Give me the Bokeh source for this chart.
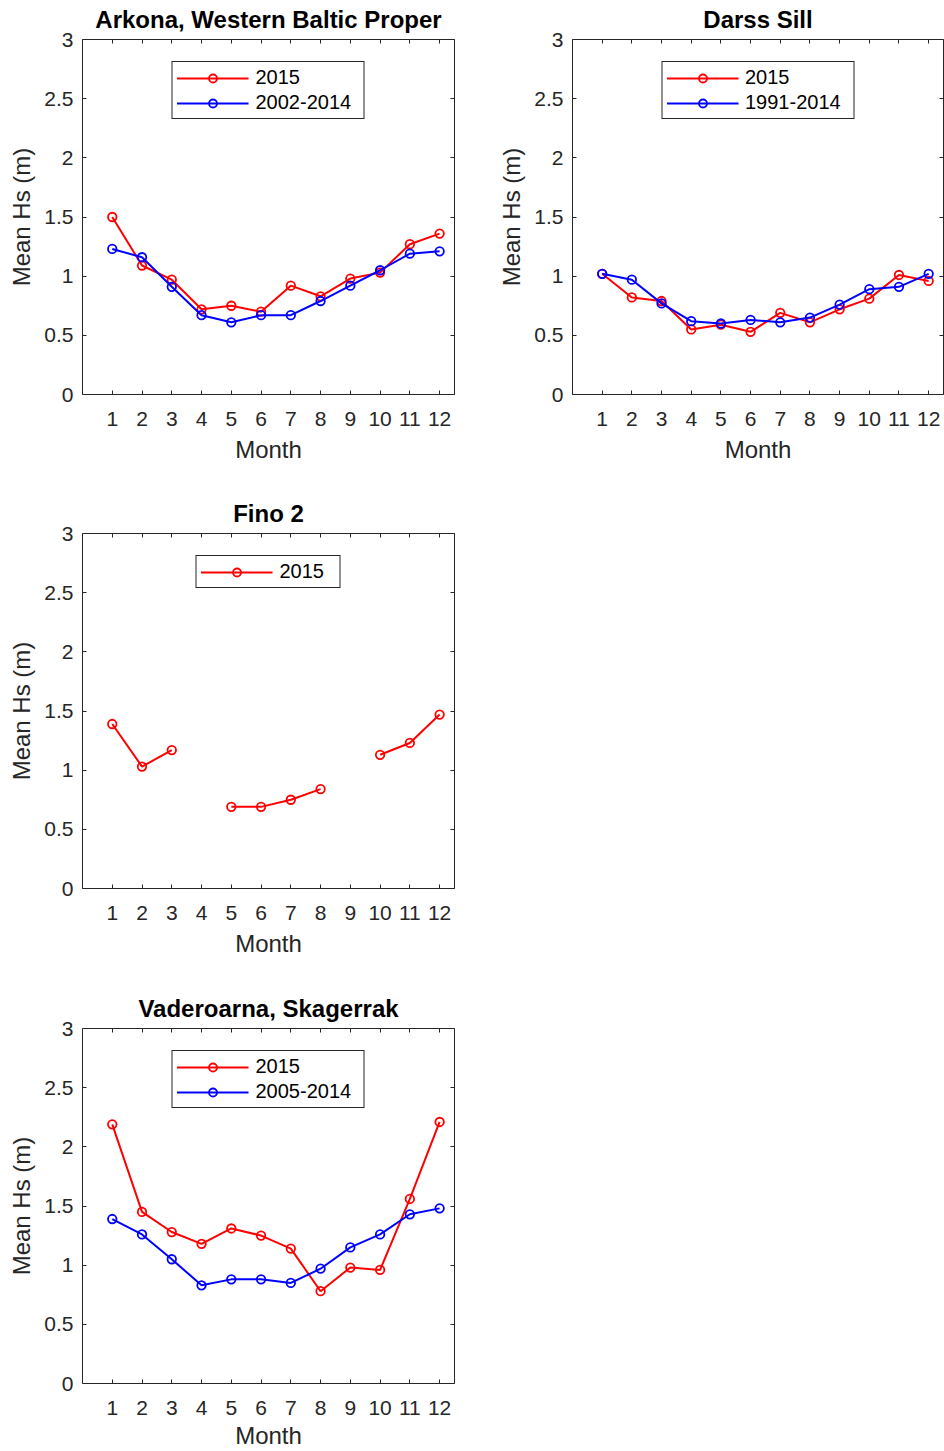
import numpy as np
from bokeh.plotting import figure
from bokeh.models import (Range1d, LinearAxis, FixedTicker, Legend, LegendItem,
                          NumeralTickFormatter, CustomJSTickFormatter, ColumnDataSource)
from bokeh.layouts import column, row
from bokeh.embed import file_html
from bokeh.resources import INLINE

nan = float("nan")
months = list(range(1, 13))
month_ticks = list(range(1, 13))
hs_ticks = [0, 0.5, 1, 1.5, 2, 2.5, 3]

arkona_2015 = [1.50, 1.09, 0.97, 0.72, 0.75, 0.70, 0.92, 0.83, 0.98, 1.03, 1.27, 1.36]
arkona_clim = [1.23, 1.16, 0.91, 0.67, 0.61, 0.67, 0.67, 0.79, 0.92, 1.05, 1.19, 1.21]
darss_2015 = [1.02, 0.82, 0.79, 0.55, 0.59, 0.53, 0.69, 0.61, 0.72, 0.81, 1.01, 0.96]
darss_clim = [1.02, 0.97, 0.77, 0.62, 0.60, 0.63, 0.61, 0.65, 0.76, 0.89, 0.91, 1.02]
fino_2015 = [1.39, 1.03, 1.17, nan, 0.69, 0.69, 0.75, 0.84, nan, 1.13, 1.23, 1.47]
vader_2015 = [2.19, 1.45, 1.28, 1.18, 1.31, 1.25, 1.14, 0.78, 0.98, 0.96, 1.56, 2.21]
vader_clim = [1.39, 1.26, 1.05, 0.83, 0.88, 0.88, 0.85, 0.97, 1.15, 1.26, 1.43, 1.48]

FONT = "Liberation Sans"
AX = "#262626"


def style_axis(ax, show_labels, is_x, label_standoff=7):
    ax.axis_line_color = AX
    ax.axis_line_width = 1
    ax.major_tick_line_color = AX
    ax.major_tick_in = 4
    ax.major_tick_out = 0
    ax.minor_tick_line_color = None
    ax.ticker = FixedTicker(ticks=month_ticks if is_x else hs_ticks)
    if show_labels:
        ax.major_label_text_font = FONT
        ax.major_label_text_font_size = "21px"
        ax.major_label_text_color = AX
        ax.axis_label_text_font = FONT
        ax.axis_label_text_font_size = "24px"
        ax.axis_label_text_font_style = "normal"
        ax.axis_label_text_color = AX
        if is_x:
            ax.major_label_standoff = 17
            ax.axis_label_standoff = label_standoff
        else:
            ax.formatter = NumeralTickFormatter(format="0.[0]")
            ax.major_label_standoff = 9
            ax.axis_label_standoff = 6
    else:
        ax.formatter = CustomJSTickFormatter(code="return ''")
        ax.major_label_text_font_size = "0px"
        ax.major_label_standoff = 0


def panel(title, series, frame_w=372, right=36, bottom=100, label_w=104, month_standoff=7):
    p = figure(frame_width=frame_w, frame_height=355,
               x_range=Range1d(0, 12.5), y_range=Range1d(0, 3),
               toolbar_location=None, output_backend="svg",
               min_border_left=82, min_border_right=right,
               min_border_top=39, min_border_bottom=bottom,
               background_fill_color="white", border_fill_color="white")
    p.outline_line_color = None
    p.grid.visible = False
    p.title.text = title
    p.title.text_font = FONT
    p.title.text_font_size = "24px"
    p.title.text_font_style = "bold"
    p.title.text_color = "black"
    p.title.align = "center"
    p.title.vertical_align = "top"
    p.title.standoff = 9

    p.xaxis.axis_label = "Month"
    p.yaxis.axis_label = "Mean Hs (m)"
    style_axis(p.xaxis[0], True, True, month_standoff)
    style_axis(p.yaxis[0], True, False)
    ta = LinearAxis()
    ra = LinearAxis()
    style_axis(ta, False, True)
    style_axis(ra, False, False)
    p.add_layout(ta, "above")
    p.add_layout(ra, "right")

    items = []
    for label, vals, color in series:
        src = ColumnDataSource(dict(x=np.array(months, dtype=float), y=np.array(vals, dtype=float)))
        l = p.line("x", "y", source=src, line_color=color, line_width=2)
        s = p.scatter("x", "y", source=src, marker="circle", size=8.5, fill_color=None,
                      line_color=color, line_width=1.8)
        items.append(LegendItem(label=label, renderers=[l, s]))
    leg = Legend(items=items, location="top_center", margin=22,
                 label_text_font=FONT, label_text_font_size="20px", label_text_color="black",
                 border_line_color=AX, border_line_width=1, border_line_alpha=1,
                 background_fill_color="white", background_fill_alpha=1,
                 padding=4, spacing=2, glyph_width=72, glyph_height=20, label_height=20,
                 label_width=label_w, label_standoff=7)
    p.add_layout(leg)
    return p


RED = "#ff0000"
BLUE = "#0000ff"
p1 = panel("Arkona, Western Baltic Proper", [("2015", arkona_2015, RED), ("2002-2014", arkona_clim, BLUE)])
p2 = panel("Darss Sill", [("2015", darss_2015, RED), ("1991-2014", darss_clim, BLUE)],
           frame_w=371, right=1)
p3 = panel("Fino 2", [("2015", fino_2015, RED)], bottom=101, label_w=56)
p4 = panel("Vaderoarna, Skagerrak", [("2015", vader_2015, RED), ("2005-2014", vader_clim, BLUE)],
           bottom=68, month_standoff=4)

layout = column(row(p1, p2), p3, p4)
open("out.html", "w").write(file_html(layout, INLINE))
